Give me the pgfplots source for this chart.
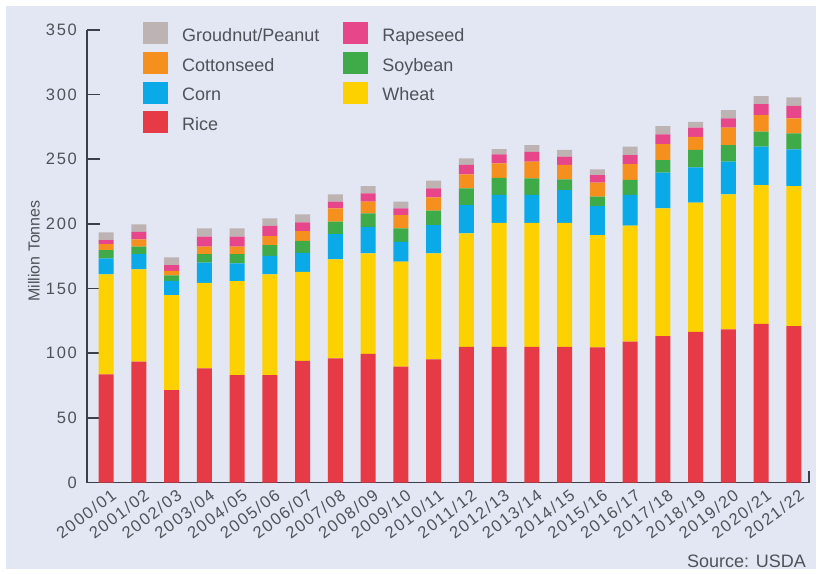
\documentclass[border=0pt]{standalone}
\usepackage{fontspec}
\setmainfont{Liberation Sans}
\newfontfamily\tickfont[LetterSpace=10]{Liberation Sans}
\usepackage{pgfplots}
\usepackage{pgfplotstable}
\pgfplotsset{compat=1.18}

\definecolor{bgcol}{HTML}{E2E7F3}
\definecolor{axiscol}{HTML}{3B3F48}
\definecolor{textcol}{HTML}{4F5258}
\definecolor{ricecol}{HTML}{E63A46}
\definecolor{wheatcol}{HTML}{FDD100}
\definecolor{corncol}{HTML}{0AA9E8}
\definecolor{soycol}{HTML}{3EAA48}
\definecolor{cottoncol}{HTML}{F5901E}
\definecolor{rapecol}{HTML}{E8468A}
\definecolor{gncol}{HTML}{BDB3B3}

% million tonnes per crop, bottom to top of each bar
\pgfplotstableread{
x  rice  wheat corn soy  cotton rape gn
0  83.7  77.2  12.4  6.4  4.7  3.1  5.9
1  93.4  71.5  11.8  5.7  5.7  5.7  5.9
2  71.5  73.5  11.0  4.3  3.3  4.6  6.0
3  88.3  66.2  15.5  6.7  5.7  7.7  6.5
4  83.1  72.7  13.7  7.2  5.7  7.7  6.5
5  83.1  77.9  14.2  8.5  6.9  7.8  5.9
6  94.0  69.0  14.7  9.1  7.7  6.7  6.2
7  96.1  76.5  19.6  9.5 10.4  5.1  5.7
8  99.4  77.9  20.5 10.4  9.0  6.5  5.6
9  89.6  81.2  15.4 10.4 10.3  5.2  5.1
10 95.3  82.0  21.8 11.1 10.4  6.9  5.9
11 105.0 87.7  21.9 12.9 10.9  7.2  5.1
12 105.0 95.9  21.5 13.3 11.2  6.9  4.1
13 105.0 95.9  21.5 12.9 12.8  7.7  5.2
14 105.0 95.9  25.3  8.3 11.1  6.4  5.2
15 104.6 86.8  22.4  7.3 10.8  5.9  4.4
16 108.9 89.7  23.8 11.6 12.3  7.0  6.4
17 113.3 98.8  27.5  9.8 12.4  7.5  6.4
18 116.6 99.8  27.4 13.4 10.2  7.0  4.6
19 118.5 104.4 25.2 12.9 13.4  7.3  6.4
20 122.6 107.5 29.6 11.6 12.9  8.5  6.2
21 121.0 108.3 28.4 12.4 11.6  9.7  6.5
}\cropdata

\pgfplotsset{
  legsq/.style={draw=none, fill=#1,
    legend image code/.code={\fill[#1] (0pt,-8.5pt) rectangle (25pt,13.5pt);}},
}

\begin{document}
\begin{tikzpicture}
\fill[white] (-87pt,-90.5pt) rectangle (732pt,482.5pt);
\fill[bgcol] (-81pt,-86.5pt) rectangle (729pt,476.5pt);
\begin{axis}[
    at={(0pt,0pt)}, anchor=south west,
    scale only axis,
    width=722pt, height=452.5pt,
    xmin=-0.58, xmax=21.46,
    ymin=0, ymax=350,
    ybar stacked, bar width=15pt,
    axis x line=bottom, axis y line=left,
    axis line style={-, draw=axiscol, line width=1.6pt},
    xtick={0,...,21},
    xticklabels={2000/01,2001/02,2002/03,2003/04,2004/05,2005/06,2006/07,2007/08,2008/09,2009/10,2010/11,2011/12,2012/13,2013/14,2014/15,2015/16,2016/17,2017/18,2018/19,2019/20,2020/21,2021/22},
    xtick style={draw=none},
    ytick={0,50,...,350},
    ytick style={draw=axiscol, line width=1.6pt},
    tick align=inside, major tick length=13pt,
    /pgf/number format/assume math mode=true,
    yticklabel style={font=\tickfont\fontsize{16.5}{18}\selectfont, text=textcol, inner sep=0pt, xshift=-10pt},
    xticklabel style={font=\tickfont\fontsize{16.5}{18}\selectfont, text=textcol, rotate=37, anchor=north east, inner sep=0pt, yshift=-7pt},
    ylabel={Million Tonnes},
    ylabel style={at={(axis description cs:-0.0734,0.5116)}, anchor=center, font=\fontsize{16}{18}\selectfont, text=textcol},
    reverse legend,
    legend columns=2,
    legend cell align=left,
    legend style={draw=none, fill=none, at={(0.0776,1.0177)}, anchor=north west,
        font=\fontsize{18}{20}\selectfont, text=textcol, inner sep=0pt, row sep=7.7pt,
        /tikz/every odd column/.append style={column sep=14pt},
        /tikz/every even column/.append style={column sep=24pt},
        nodes={inner sep=0pt}},
]
\addplot[legsq=ricecol]   table[x=x, y=rice]   {\cropdata};
\addlegendentry{Rice}
\addplot[legsq=wheatcol]  table[x=x, y=wheat]  {\cropdata};
\addlegendentry{Wheat}
\addplot[legsq=corncol]   table[x=x, y=corn]   {\cropdata};
\addlegendentry{Corn}
\addplot[legsq=soycol]    table[x=x, y=soy]    {\cropdata};
\addlegendentry{Soybean}
\addplot[legsq=cottoncol] table[x=x, y=cotton] {\cropdata};
\addlegendentry{Cottonseed}
\addplot[legsq=rapecol]   table[x=x, y=rape]   {\cropdata};
\addlegendentry{Rapeseed}
\addplot[legsq=gncol]     table[x=x, y=gn]     {\cropdata};
\addlegendentry{Groudnut/Peanut}
\end{axis}
% small end mark on the x axis
\draw[axiscol, line width=1.6pt] (722pt,0pt) -- (722pt,12pt);
\node[anchor=base east, font=\fontsize{18}{20}\selectfont, text=textcol, inner sep=0pt] at (719pt,-84.5pt) {Source: USDA};
\pgfresetboundingbox
\path (-87pt,-90.5pt) rectangle (732pt,482.5pt);
\end{tikzpicture}
\end{document}
